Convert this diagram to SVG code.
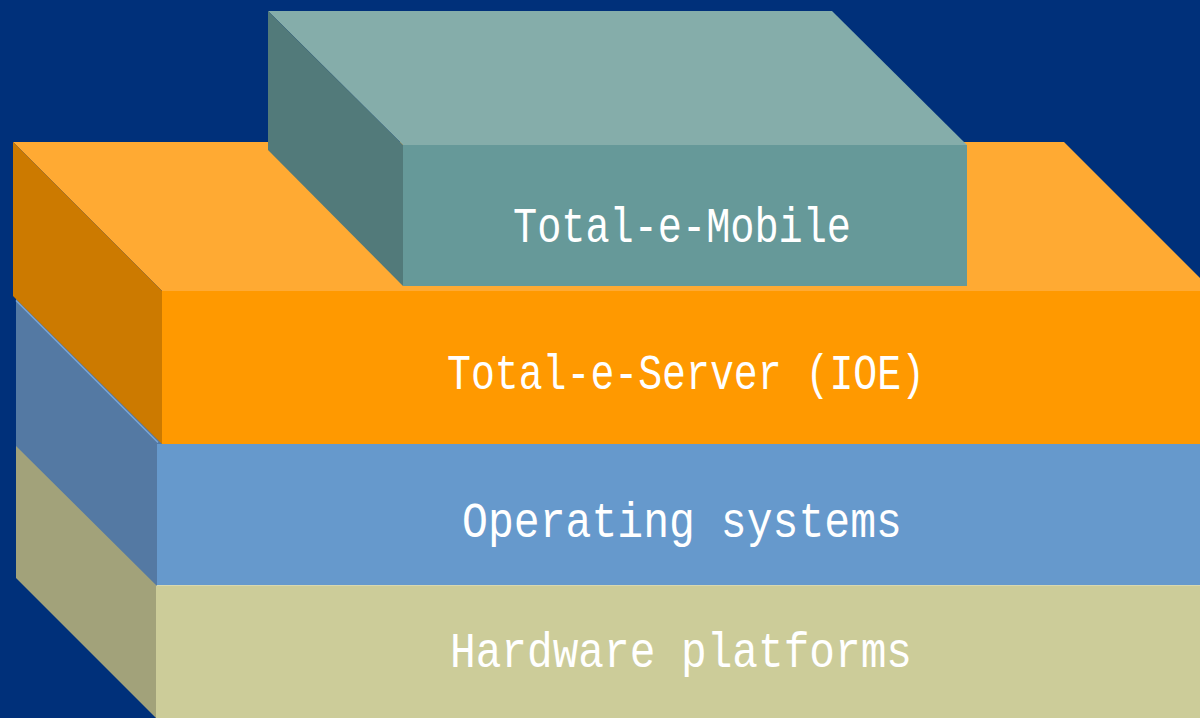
<svg xmlns="http://www.w3.org/2000/svg" width="1200" height="718" viewBox="0 0 1200 718">
<style>
.lbl{font-family:"Liberation Mono","DejaVu Sans Mono",monospace;font-size:50px;fill:#ffffff;text-anchor:middle}
</style>
<rect x="0" y="0" width="1200" height="718" fill="#00307A"/>
<g id="hardware">
<polygon points="16,444 157,585 156,718 16,578" fill="#A2A27A"/>
<rect x="156" y="585" width="1044" height="133" fill="#CCCC99"/>
<line x1="156" y1="585.5" x2="1200" y2="585.5" stroke="#D8D8B0" stroke-width="1"/>
<text class="lbl" x="681" y="667" textLength="462" lengthAdjust="spacingAndGlyphs">Hardware platforms</text>
</g>
<g id="os">
<polygon points="16,297 163,444 157,444 157,586 16,446" fill="#5479A3"/>
<rect x="157" y="444" width="1043" height="141" fill="#6699CC"/>
<line x1="16" y1="300.5" x2="158" y2="442.5" stroke="#7AA6D6" stroke-width="1.5"/>
<text class="lbl" x="682" y="537" textLength="440" lengthAdjust="spacingAndGlyphs">Operating systems</text>
</g>
<g id="server">
<polygon points="13,142 1064,142 1213,291 162,291" fill="#FFAA33"/>
<polygon points="13,142 162,291 162,444 13,296" fill="#CC7A00"/>
<rect x="162" y="291" width="1038" height="153" fill="#FF9900"/>
<text class="lbl" x="686" y="389" textLength="478" lengthAdjust="spacingAndGlyphs">Total-e-Server (IOE)</text>
</g>
<g id="mobile">
<polygon points="268,11 832,11 967,145 403,145" fill="#85ADAA"/>
<polygon points="268,11 403,145 403,286 268,150" fill="#527A7A"/>
<rect x="403" y="145" width="564" height="141" fill="#669999"/>
<text class="lbl" x="682" y="242" textLength="338" lengthAdjust="spacingAndGlyphs">Total-e-Mobile</text>
</g>
<g id="connectors"/>
</svg>
